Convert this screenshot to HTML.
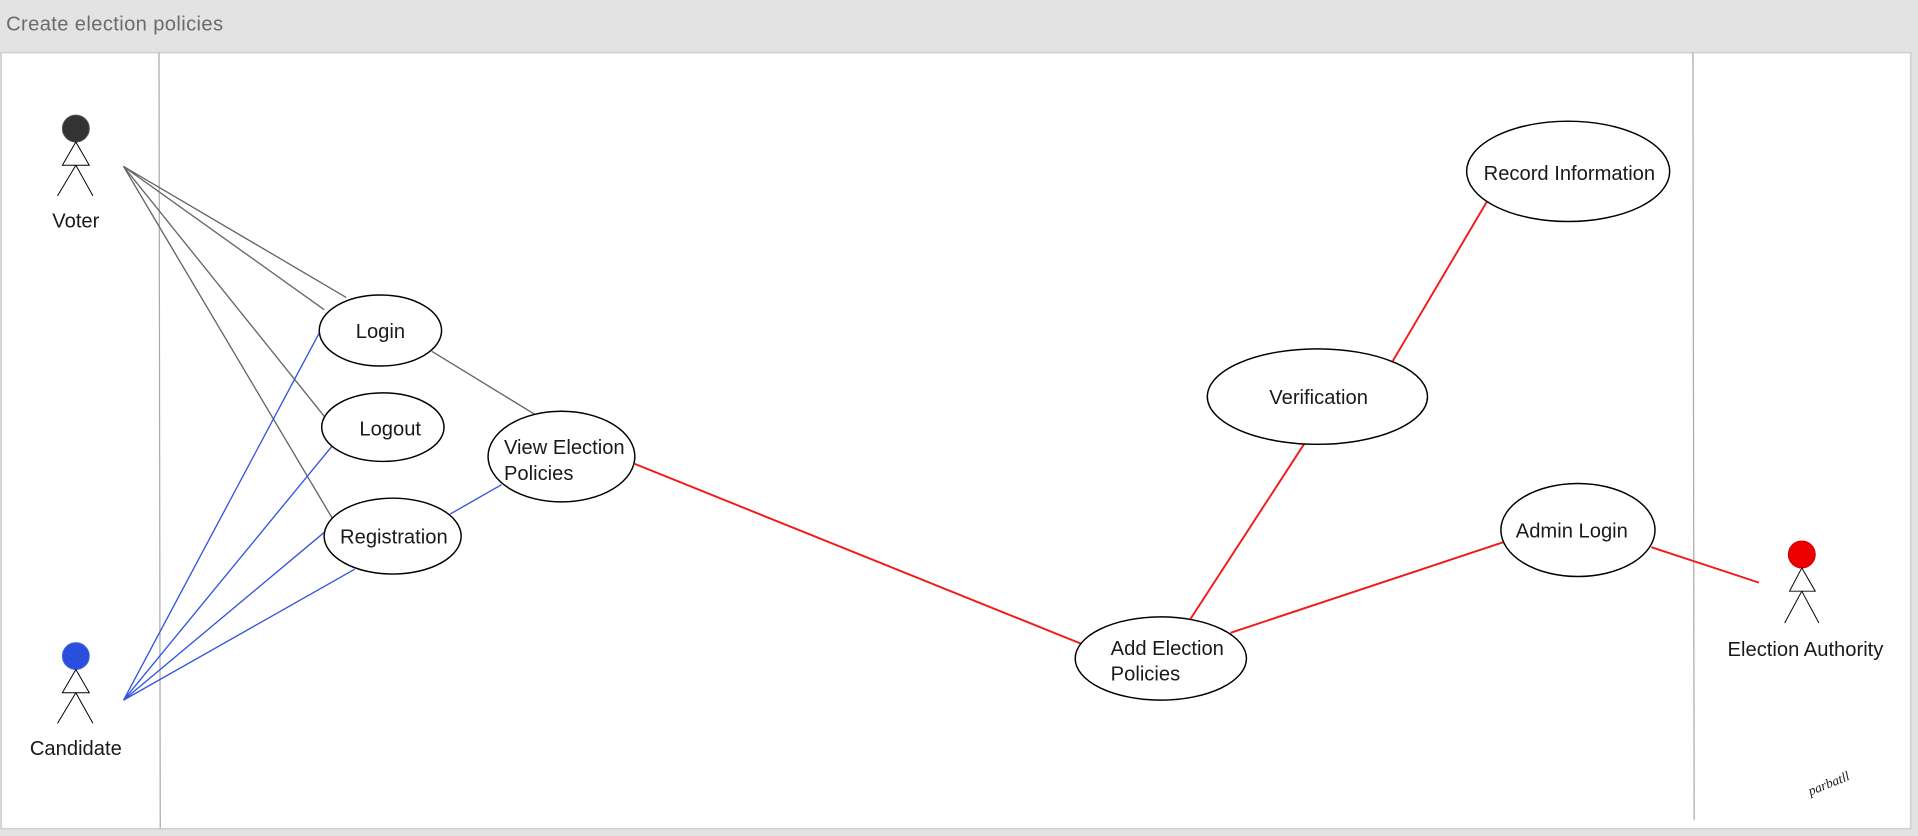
<!DOCTYPE html>
<html><head><meta charset="utf-8"><style>
html,body{margin:0;padding:0;background:#fff;width:1918px;height:836px;overflow:hidden}
svg{display:block}
text{font-family:"Liberation Sans",sans-serif;fill:#1a1a1a}
</style></head><body>
<svg width="1918" height="836" viewBox="0 0 1568 683" preserveAspectRatio="none">
<rect x="0" y="0" width="1568" height="683" fill="#e3e3e3"/>
<text x="5" y="25" font-size="16.5" style="fill:#6b6b6b;letter-spacing:0.3px">Create election policies</text>
<rect x="1" y="43" width="1561" height="634" fill="#fff" stroke="#cfcfcf" stroke-width="1.2"/>
<line x1="130" y1="43" x2="131" y2="677" stroke="#aaa" stroke-width="1"/>
<line x1="1384" y1="43" x2="1385" y2="670" stroke="#aaa" stroke-width="1"/>

<!-- gray lines -->
<g stroke="#666" stroke-width="1.1">
<line x1="101" y1="136" x2="283" y2="243"/>
<line x1="101" y1="136" x2="265" y2="253"/>
<line x1="101" y1="136" x2="265" y2="340"/>
<line x1="101" y1="136" x2="272" y2="424"/>
<line x1="353" y1="287" x2="438" y2="339"/>
</g>
<g stroke="#3454e0" stroke-width="1.1">
<line x1="101" y1="572" x2="261" y2="272"/>
<line x1="101" y1="572" x2="271" y2="365"/>
<line x1="101" y1="572" x2="265" y2="435"/>
<line x1="101" y1="572" x2="290" y2="465"/>
<line x1="368" y1="420" x2="410" y2="396"/>
</g>
<g stroke="#f01c1c" stroke-width="1.6">
<line x1="519" y1="379" x2="889" y2="528"/>
<line x1="973" y1="506" x2="1066" y2="363"/>
<line x1="1138" y1="296" x2="1216" y2="164"/>
<line x1="1006" y1="517" x2="1229" y2="443"/>
<line x1="1350" y1="447" x2="1438" y2="476"/>
</g>

<g fill="#fff" stroke="#000" stroke-width="1.2">
<ellipse cx="311" cy="270" rx="50" ry="29"/>
<ellipse cx="313" cy="349" rx="50" ry="28"/>
<ellipse cx="321" cy="438" rx="56" ry="31"/>
<ellipse cx="459" cy="373" rx="60" ry="37"/>
<ellipse cx="949" cy="538" rx="70" ry="34"/>
<ellipse cx="1077" cy="324" rx="90" ry="39"/>
<ellipse cx="1290" cy="433" rx="63" ry="38"/>
<ellipse cx="1282" cy="140" rx="83" ry="41"/>
</g>
<g font-size="16.5">
<text x="311" y="276" text-anchor="middle">Login</text>
<text x="319" y="356" text-anchor="middle">Logout</text>
<text x="322" y="444" text-anchor="middle">Registration</text>
<text x="412" y="371">View Election</text>
<text x="412" y="392">Policies</text>
<text x="908" y="535">Add Election</text>
<text x="908" y="556">Policies</text>
<text x="1078" y="330" text-anchor="middle">Verification</text>
<text x="1285" y="439" text-anchor="middle">Admin Login</text>
<text x="1283" y="147" text-anchor="middle">Record Information</text>
<text x="62" y="186" text-anchor="middle">Voter</text>
<text x="62" y="617" text-anchor="middle">Candidate</text>
<text x="1476" y="536" text-anchor="middle">Election Authority</text>
</g>

<!-- actors -->
<g stroke="#000" stroke-width="0.8" fill="none">
<circle cx="62" cy="105" r="11" fill="#333" stroke="#555"/>
<polygon points="62,116 51,135 73,135" fill="#fff"/>
<line x1="62" y1="135" x2="47" y2="160"/><line x1="62" y1="135" x2="76" y2="160"/>
<circle cx="62" cy="536" r="11" fill="#2b4fdc" stroke="#4a6ae0"/>
<polygon points="62,547 51,566 73,566" fill="#fff"/>
<line x1="62" y1="566" x2="47" y2="591"/><line x1="62" y1="566" x2="76" y2="591"/>
<circle cx="1473" cy="453" r="11" fill="#ee0000" stroke="#c00"/>
<polygon points="1473,464 1463,483 1484,483" fill="#fff"/>
<line x1="1473" y1="483" x2="1459" y2="509"/><line x1="1473" y1="483" x2="1487" y2="509"/>
</g>
<text x="1480" y="650" font-size="11" font-style="italic" transform="rotate(-22 1480 650)" style="font-family:'Liberation Serif',serif">parbatll</text>
</svg>
</body></html>
